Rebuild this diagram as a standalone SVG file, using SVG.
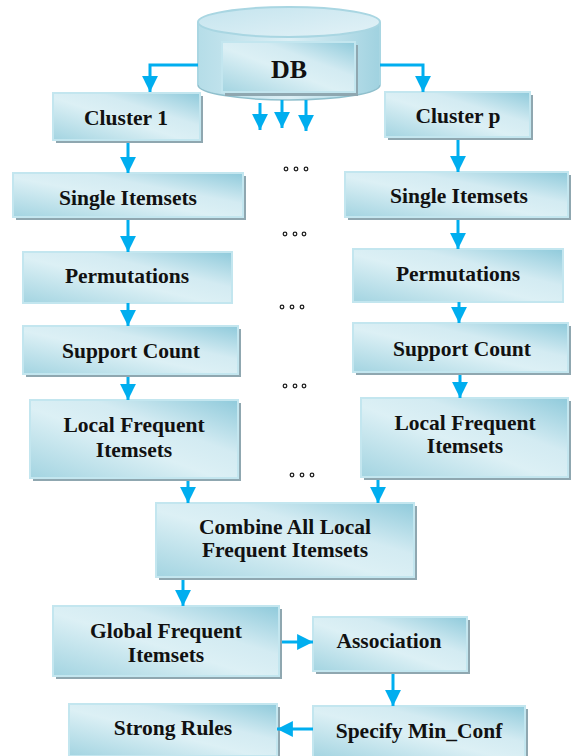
<svg xmlns="http://www.w3.org/2000/svg" width="571" height="756" viewBox="0 0 571 756">
<defs>
<linearGradient id="boxg" x1="0" y1="1" x2="1" y2="0">
<stop offset="0" stop-color="#a3d4e1"/>
<stop offset="0.45" stop-color="#dcf0f5"/>
<stop offset="0.65" stop-color="#d3ebf2"/>
<stop offset="1" stop-color="#8fcadb"/>
</linearGradient>
<linearGradient id="cylg" x1="0" y1="0" x2="1" y2="0">
<stop offset="0" stop-color="#b5dde8"/>
<stop offset="0.5" stop-color="#dceff5"/>
<stop offset="1" stop-color="#a0d2e0"/>
</linearGradient>
<linearGradient id="topg" x1="0" y1="0" x2="1" y2="1">
<stop offset="0" stop-color="#c4e4ee"/>
<stop offset="1" stop-color="#e3f2f7"/>
</linearGradient>
<marker id="ah" viewBox="0 0 10 10" refX="10" refY="5" markerWidth="5.3" markerHeight="5.3" markerUnits="strokeWidth" orient="auto">
<path d="M0,0 L10,5 L0,10 Z" fill="#00aeef"/>
</marker>
<style>
.box{fill:url(#boxg);stroke:#c3e6ef;stroke-width:2}
.sh{fill:#8fa7b0}
.t{font-family:"Liberation Serif","Times New Roman",serif;font-weight:bold;font-size:21.5px;fill:#111;text-anchor:middle}
.c{stroke:#00aeef;stroke-width:3;fill:none;marker-end:url(#ah)}
.dot{fill:#fff;stroke:#222;stroke-width:1.3}
</style>
</defs>

<g id="db">
<ellipse cx="289" cy="85" rx="91" ry="15" fill="url(#cylg)" stroke="#8fbfcc" stroke-width="1.5"/>
<rect x="198" y="22" width="182" height="63" fill="url(#cylg)"/>
<line x1="198" y1="22" x2="198" y2="85" stroke="#a9d6e2" stroke-width="2"/>
<line x1="380" y1="22" x2="380" y2="85" stroke="#a9d6e2" stroke-width="2"/>
<ellipse cx="289" cy="22" rx="91" ry="15" fill="url(#topg)" stroke="#a9d6e2" stroke-width="2"/>
<rect class="sh" x="225" y="45" width="133" height="51"/>
<rect class="box" x="222" y="42" width="133" height="50"/>
<text class="t" x="289" y="78" style="font-size:26px">DB</text>
</g>

<g id="cluster1"><rect class="sh" x="56" y="96" width="147" height="47"/><rect class="box" x="53" y="93" width="147" height="47"/><text class="t" x="126" y="125">Cluster 1</text></g>
<g id="single_l"><rect class="sh" x="16" y="176" width="230" height="44"/><rect class="box" x="13" y="173" width="230" height="44"/><text class="t" x="128" y="205">Single Itemsets</text></g>
<g id="perm_l"><rect class="box" x="23" y="252" width="209" height="51"/><text class="t" x="127" y="283">Permutations</text></g>
<g id="support_l"><rect class="sh" x="26" y="329" width="215" height="48"/><rect class="box" x="23" y="326" width="215" height="48"/><text class="t" x="131" y="358">Support Count</text></g>
<g id="local_l"><rect class="sh" x="33" y="403" width="208" height="78"/><rect class="box" x="30" y="400" width="208" height="78"/><text class="t" x="134" y="432">Local Frequent</text><text class="t" x="134" y="457">Itemsets</text></g>

<g id="clusterp"><rect class="sh" x="388" y="95" width="145" height="45"/><rect class="box" x="385" y="92" width="145" height="45"/><text class="t" x="458" y="123">Cluster p</text></g>
<g id="single_r"><rect class="sh" x="348" y="175" width="223" height="45"/><rect class="box" x="345" y="172" width="223" height="45"/><text class="t" x="459" y="203">Single Itemsets</text></g>
<g id="perm_r"><rect class="box" x="353" y="249" width="210" height="53"/><text class="t" x="458" y="281">Permutations</text></g>
<g id="support_r"><rect class="sh" x="356" y="326" width="215" height="49"/><rect class="box" x="353" y="323" width="215" height="49"/><text class="t" x="462" y="356">Support Count</text></g>
<g id="local_r"><rect class="sh" x="364" y="401" width="207" height="79"/><rect class="box" x="361" y="398" width="207" height="79"/><text class="t" x="465" y="430">Local Frequent</text><text class="t" x="465" y="453">Itemsets</text></g>

<g id="combine"><rect class="sh" x="159" y="506" width="258" height="74"/><rect class="box" x="156" y="503" width="258" height="74"/><text class="t" x="285" y="534">Combine All Local</text><text class="t" x="285" y="557">Frequent Itemsets</text></g>
<g id="global"><rect class="sh" x="56" y="609" width="226" height="70"/><rect class="box" x="53" y="606" width="226" height="70"/><text class="t" x="166" y="638">Global Frequent</text><text class="t" x="166" y="662">Itemsets</text></g>
<g id="assoc"><rect class="sh" x="316" y="620" width="154" height="54"/><rect class="box" x="313" y="617" width="154" height="54"/><text class="t" x="389" y="648">Association</text></g>
<g id="specify"><rect class="sh" x="316" y="709" width="212" height="50"/><rect class="box" x="313" y="706" width="212" height="52"/><text class="t" x="419" y="738">Specify Min_Conf</text></g>
<g id="strong"><rect class="sh" x="72" y="707" width="208" height="52"/><rect class="box" x="69" y="704" width="208" height="52"/><text class="t" x="173" y="735">Strong Rules</text></g>

<g id="dots">
<circle class="dot" cx="286" cy="169" r="1.8"/><circle class="dot" cx="296" cy="169" r="1.8"/><circle class="dot" cx="306" cy="169" r="1.8"/>
<circle class="dot" cx="285" cy="234" r="1.8"/><circle class="dot" cx="295" cy="234" r="1.8"/><circle class="dot" cx="304" cy="234" r="1.8"/>
<circle class="dot" cx="282" cy="307" r="1.8"/><circle class="dot" cx="292" cy="307" r="1.8"/><circle class="dot" cx="302" cy="307" r="1.8"/>
<circle class="dot" cx="285" cy="386" r="1.8"/><circle class="dot" cx="295" cy="386" r="1.8"/><circle class="dot" cx="304" cy="386" r="1.8"/>
<circle class="dot" cx="292" cy="475" r="1.8"/><circle class="dot" cx="302" cy="475" r="1.8"/><circle class="dot" cx="312" cy="475" r="1.8"/>
</g>

<g id="connectors">
<path class="c" d="M198,65 H150 V92"/>
<path class="c" d="M380,65 H423 V92"/>
<path class="c" d="M260,103 V130"/>
<path class="c" d="M282,100 V128"/>
<path class="c" d="M306,100 V131"/>
<path class="c" d="M128,143 V173"/>
<path class="c" d="M128,220 V252"/>
<path class="c" d="M128,303 V326"/>
<path class="c" d="M128,377 V400"/>
<path class="c" d="M458,140 V172"/>
<path class="c" d="M458,220 V249"/>
<path class="c" d="M459,302 V323"/>
<path class="c" d="M460,375 V398"/>
<path class="c" d="M188,481 V503"/>
<path class="c" d="M378,480 V503"/>
<path class="c" d="M183,580 V606"/>
<path class="c" d="M282,642 H313"/>
<path class="c" d="M393,674 V706"/>
<path class="c" d="M313,729 H277"/>
</g>
</svg>
